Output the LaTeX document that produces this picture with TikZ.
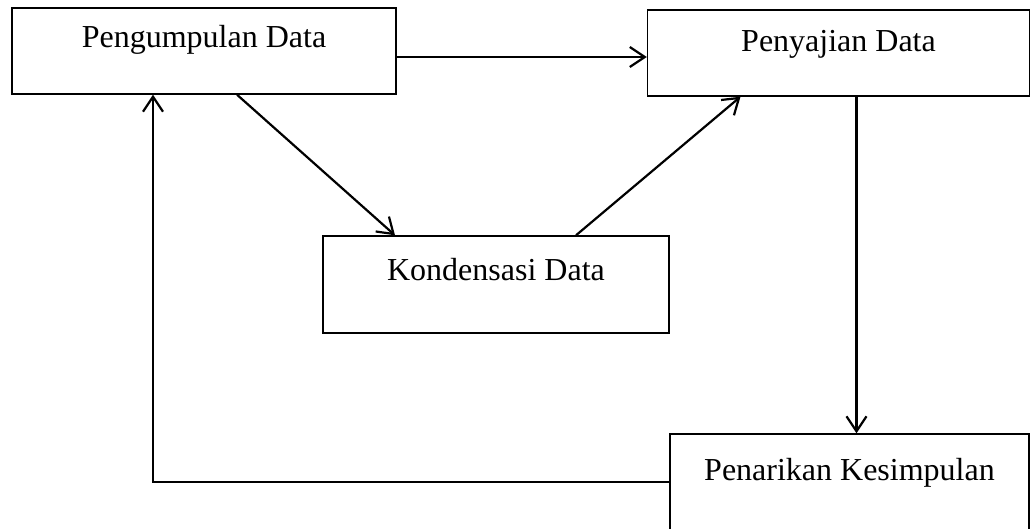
\documentclass[tikz,border=0pt]{standalone}
\usepackage{fontspec}
\setmainfont{Liberation Serif}
\usetikzlibrary{arrows.meta}
\tikzstyle{data box}=[
        draw = black,
        line width = 1.4pt,
        fill = white,
        rectangle,
        inner sep = 0pt,
        font = \fontsize{32}{38}\selectfont
    ]
\begin{document}
\begin{tikzpicture}[x=1pt, y=-1pt, line width=2.2pt, flow/.style = {-{Straight Barb[length=15pt,width=20pt,line width=2.2pt]}}]
        \useasboundingbox (0,0) rectangle (1031,529);
        \node[data box, minimum width=384pt, text height=40pt, text depth=46pt] (PD) at (204,51) {Pengumpulan Data};
        \node[data box, minimum width=382pt, text height=42pt, text depth=44pt] (PJ) at (838.5,53) {Penyajian Data};
        \node[data box, minimum width=346pt, text height=45pt, text depth=52pt] (KD) at (496,284.5) {Kondensasi Data};
        \node[data box, minimum width=359pt, text height=46pt, text depth=50pt] (PK) at (849.5,482) {Penarikan Kesimpulan};

        \draw[flow] ([yshift=-6pt]PD.east) -- ([yshift=-6pt]PD.east -| PJ.west);
        \draw[flow] ([xshift=33pt]PD.south) -- ([xshift=-101pt]KD.north);
        \draw[flow] ([xshift=80pt]KD.north) -- ([xshift=-98pt]PJ.south);
        \draw[flow] ([xshift=18pt]PJ.south) -- ([xshift=18pt]PJ.south |- PK.north);
        \draw[flow] (PK.west) -| ([xshift=-51pt]PD.south);
    \end{tikzpicture}
\end{document}
